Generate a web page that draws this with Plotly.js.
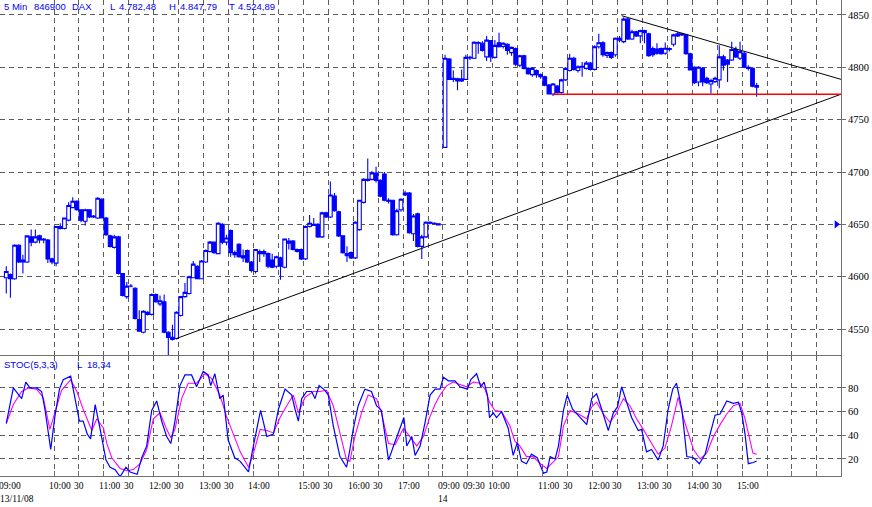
<!DOCTYPE html>
<html><head><meta charset="utf-8">
<script src="https://cdn.plot.ly/plotly-3.0.1.min.js"></script>
<style>html,body{margin:0;padding:0;background:#fff;}#chart{width:872px;height:507px;}</style>
</head><body><div id="chart"></div>
<script>
// ---- Day 1 (13/11/08) 5-min candles from 09:00 ----
const day1Open  = [4599,4602,4598,4630,4616,4614,4638,4633,4639,4636,4635,4617,4613,4648,4646,4654,4666,4672,4664,4653,4664,4658,4656,4674,4656,4639,4628,4638,4603,4581,4591,4589,4559,4547,4566,4564,4583,4574,4576,4547,4540,4541,4563,4581,4584,4599,4610,4598,4614,4624,4633,4622,4650,4633,4644,4623,4631,4620,4625,4614,4605,4624,4622,4622,4616,4610,4618,4609,4634,4634,4624,4626,4617,4648,4650,4650,4638,4661,4657,4677,4662,4639,4622,4623,4618,4645,4671,4692,4693,4699,4692,4698,4673,4673,4640,4664,4678,4680,4641,4660,4629,4638,4652,4651,4650.5];
const day1High  = [4610,4603,4631,4631,4621,4639,4645,4645,4640,4637,4636,4618,4648,4651,4656,4671,4676,4673,4664,4665,4664,4659,4676,4675,4657,4640,4640,4639,4603,4595,4593,4590,4568,4568,4567,4584,4584,4582,4583,4548,4554,4567,4581,4594,4601,4615,4611,4616,4626,4634,4633,4652,4651,4640,4645,4625,4632,4626,4626,4615,4626,4626,4626,4623,4622,4620,4619,4636,4637,4635,4627,4627,4649,4659,4656,4651,4662,4662,4691,4680,4663,4639,4629,4624,4653,4673,4694,4713,4701,4705,4693,4700,4675,4673,4665,4675,4682,4681,4660,4661,4640,4653,4653,4652,4651];
const day1Low   = [4584,4580,4597,4613,4603,4613,4629,4632,4632,4632,4613,4612,4610,4645,4645,4653,4666,4663,4652,4649,4656,4656,4655,4656,4639,4628,4627,4602,4581,4579,4590,4559,4548,4546,4563,4563,4575,4572,4546,4525,4539,4540,4562,4580,4583,4599,4598,4598,4613,4623,4622,4622,4631,4630,4619,4618,4618,4614,4613,4604,4603,4614,4619,4608,4608,4608,4597,4608,4626,4625,4623,4616,4616,4647,4649,4637,4637,4656,4656,4662,4638,4622,4614,4617,4617,4644,4670,4691,4692,4690,4676,4672,4670,4639,4639,4662,4677,4641,4634,4628,4617,4637,4650,4650,4649];
const day1Close = [4605,4598,4630,4614,4614,4639,4633,4638,4635,4635,4617,4614,4648,4646,4656,4668,4672,4664,4654,4664,4657,4657,4675,4656,4640,4629,4638,4603,4582,4591,4591,4560,4548,4567,4564,4583,4576,4577,4547,4542,4542,4566,4581,4585,4600,4612,4598,4615,4625,4633,4623,4651,4633,4637,4623,4621,4619,4618,4614,4606,4626,4622,4624,4610,4609,4619,4610,4636,4632,4626,4626,4617,4648,4651,4649,4638,4661,4657,4678,4663,4639,4623,4620,4618,4652,4673,4693,4693,4699,4692,4677,4673,4672,4640,4663,4674,4680,4642,4658,4629,4638,4652,4651,4650.5,4649.5];

// ---- Day 2 (14) 5-min candles from 09:00 ----
const day2Open  = [4723.5,4808,4788.5,4789,4787,4788.5,4809.5,4808.6,4823.6,4823,4810,4825.5,4809.5,4823.5,4820,4822,4814,4818,4802,4811,4799,4793,4797,4793,4791,4783,4774.5,4782,4776,4788,4797,4808.6,4797,4800,4799,4804,4798,4819.7,4823.5,4811.4,4814,4812,4827.7,4824.5,4846,4827,4834,4830,4835,4832,4818,4817.5,4818,4813.4,4818,4822,4830,4832,4831,4813,4800,4786,4799,4789.5,4784,4786.3,4788,4810,4807,4807,4817,4808.6,4813.4,4800,4799,4781];
const day2High  = [4812,4809,4797,4790,4798,4812,4811,4825,4825,4825,4830,4826,4826,4833,4824,4823,4820,4819,4812,4812,4800,4800,4798,4794,4792,4784,4785,4783,4789,4800,4813,4810,4802,4805,4806,4805,4821,4832,4825,4815,4815,4828.5,4830,4847.79,4847,4836,4835,4836,4836,4833,4820,4823,4819,4823.6,4819,4832,4834,4833,4832,4814,4801,4801,4800,4791,4789,4791,4821,4812,4808,4824.5,4820,4824.5,4815,4802,4800,4785];
const day2Low   = [4723,4788,4786,4778,4786,4788,4807,4808,4813,4815,4806,4805,4808.5,4819,4818,4812,4811,4801,4800,4798,4793,4791,4790,4789,4782,4774,4772.6,4775,4775,4787,4796,4797,4795,4791,4798,4797,4797,4818,4810,4809,4808,4810,4824,4823,4826,4826,4829,4823,4823,4810,4810,4812,4812,4812,4815,4820,4829,4830,4812,4797,4784,4782,4782,4784,4775,4785,4780,4797,4786,4806,4809,4807,4799,4797,4781,4772];
const day2Close = [4808.6,4788.5,4789.5,4787,4789,4809.5,4809,4824,4823,4816,4826,4810,4821,4819.7,4823,4816,4819,4803,4811,4799,4794,4799,4793,4791,4783,4774.5,4784,4776,4788,4799,4808.6,4798,4800.6,4801,4804,4798,4819.7,4823.5,4812,4814,4809.5,4827.7,4826,4846,4827,4834,4830,4835,4833,4811,4812,4813.4,4813,4818.2,4817,4831,4832,4831,4813,4797.5,4785.4,4800,4786,4785.4,4787.3,4789.5,4810,4802,4803,4817,4810,4815,4800,4799,4782,4782.48];

// ---- STOC(5,3,3): %K (blue) and %D (magenta); bar = 5-min bar index within the day ----
const stochK1Bar = [0,1.7,3.7,4.7,5.7,7.3,8.5,9.3,10.7,11.7,12.8,13.7,15.5,16.5,17.6,18.5,19.5,20.3,21.4,22.6,24,25,26.2,27.4,28.8,29.8,30.6,31.5,32.6,33.8,35,36.2,37.4,38.6,39.6,40.6,41.8,43,44.6,45.8,47.4,48.6,49.2,50.2,51.4,52.2,53.4,55,56.3,57.5,58.3,59.3,60.1,61.2,61.9,62.7,64.3,65.5,67.1,68.7,69.5,70.3,71.1,72.3,73.5,74.3,75.3,76.7,77.5,78.7,80.3,81.9,82.7,83.5,84.7,86.3,87.9,89.1,90.3,92,93.2,94.8,95.7,96.4,97.6,98.4,99.6,100.8,102,103.2,104.4];
const stochK1 = [50,80,71,85,80,80,77,62,28,56,79,87,90,71,52,52,41,37,66,45,19,13,11,5,13,9,8,7,21,31,61,69,52,39,33,52,82,91,91,81,94,91,82,92,71,74,36,21,18,12,9,28,42,61,51,39,41,62,79,74,62,52,71,77,77,71,82,78,74,48,22,13,28,45,65,79,77,65,61,19,31,46,55,31,39,23,31,51,74,79,79];
const stochK2Bar = [-0.4,0.8,2.4,3.6,5.4,6.2,7.6,8.6,9.4,10.2,10.7,11.6,12.4,13.6,15.2,16.4,17.4,18.4,19.6,20.8,22.2,23.7,24.5,25.3,26.5,27.3,28.5,29.4,30.7,32.5,34.1,35.3,36.5,37.7,39.3,40.5,41.5,42.5,43.7,44.9,46.5,47.3,48.5,49.7,51.3,52.5,53.7,54.8,55.7,57,58.2,59.8,61.2,62.6,63.8,65,66.2,67.8,69.4,70.6,71.4,72.2,73,74.2,75];
const stochK2 = [89,86,86,81,79,87,92,81,85,74,55,59,55,60,46,23,34,18,16,24,21,8,9,22,20,31,61,74,62,55,49,71,75,62,44,59,64,81,68,55,44,45,26,28,19,31,62,79,84,62,22,21,16,24,41,57,58,69,67,68,59,41,16,17,18.34];
const stochD1Bar = [0,1.7,3.7,5.3,7.3,8.9,10.5,11.7,13.3,15.5,17,18.5,20.6,21.8,23.4,24.2,25.4,27.4,29,30.6,32.2,33.8,35.4,37,38.6,39.6,40.6,42.2,43.8,45.8,47.8,49.4,51.4,53,54.6,56.3,58.3,59.5,61.1,62.7,64.3,65.9,67.5,69.1,70.3,71.9,73.9,75.5,77.1,78.7,80.3,81.9,82.7,83.9,85.5,87.1,89.1,90.3,92,93.6,95.6,97.2,98.8,100.4,102,103.2,104.4];
const stochD1 = [50,66,77,80,79,72,45,59,78,87,77,62,44,54,46,33,21,12,10,11,16,28,54,59,45,38,45,71,84,84,92,88,74,56,41,26,13,25,45,44,42,55,65,74,59,72,77,77,78,65,42,19,18,39,59,74,71,59,33,32,46,39,31,39,56,66,74];
const stochD2Bar = [0.4,2,3.6,5.2,6.8,8.4,9.6,10.7,12,13.6,15.6,16.8,18,19.6,21.2,22.9,24.5,26.1,27.3,28.5,30.1,32.1,34.1,35.3,36.5,38.1,39.7,41.3,42.9,44.5,46.1,47.7,49.3,51.3,52.9,54.5,56.1,57.7,59.8,61.4,63,64.6,66.2,67.8,69.4,71,72.2,73,74.1,75];
const stochD2 = [82,85,83,81,85,84,79,68,61,60,48,35,31,22,22,16,12,18,22,48,61,58,54,64,68,58,51,59,71,65,54,45,36,24,29,48,72,51,28,20,25,39,49,58,65,67,54,42,25,24];

// ---- Tick / label text ----
const yMainTicks = [4550,4600,4650,4700,4750,4800,4850];
const yStochTicks = [20,40,60,80];
const day1GridTimes = ["10:00","10:30","11:00","11:30","12:00","12:30","13:00","13:30","14:00","14:30","15:00","15:30","16:00","16:30","17:00","17:30"];
const day2GridTimes = ["09:00","09:30","10:00","10:30","11:00","11:30","12:00","12:30","13:00","13:30","14:00","14:30","15:00","15:30","16:00","16:30"];
const day1LabelTimes = ["09:00","10:00","10:30","11:00","11:30","12:00","12:30","13:00","13:30","14:00","15:00","15:30","16:00","16:30","17:00"];
const day1LabelTexts = ["09:00","10:00","30","11:00","30","12:00","30","13:00","30","14:00","15:00","30","16:00","30","17:00"];
const day2LabelTimes = ["09:00","09:30","10:00","11:00","11:30","12:00","12:30","13:00","13:30","14:00","14:30","15:00"];
const day2LabelTexts = ["09:00","09:30","10:00","11:00","30","12:00","30","13:00","30","14:00","30","15:00"];
const dateLabels = ["13/11/08","14"];
const headerTexts = ["5 Min","846900","DAX","L","4.782,48","H","4.847,79","T","4.524,89"];
const stochHeader = ["STOC(5,3,3)","L","18,34"];

// ---- Drawn lines (anchor values) ----
const supportBar = [41.5, 201.4], supportVal = [4541, 4774.3];
const resistBar  = [148.6, 201.4], resistVal = [4849.3, 4788.5];
const redLineBar = [132.1, 201.4], redLineVal = [4774.2, 4774.2];
const markerVal = 4650;

// ---- layout helpers ----
const DAY2_START = 105.6;         // slot position of day-2 09:00 on the bar axis
const X_RANGE = [-1.01, 201.4];
function slot(t){const p=t.split(':').map(Number);return (p[0]*60+p[1]-540)/5;}
const x1 = day1Open.map((_,i)=>i+0.5);
const x2 = day2Open.map((_,j)=>DAY2_START+j+0.5);
const gridVals = day1GridTimes.map(slot).concat(day2GridTimes.map(t=>DAY2_START+slot(t)));

const BLUE='#0000ff';
const traces = [
  {type:'candlestick', x:x1.concat(x2),
   open:day1Open.concat(day2Open), high:day1High.concat(day2High),
   low:day1Low.concat(day2Low), close:day1Close.concat(day2Close),
   increasing:{line:{color:BLUE,width:1.1}, fillcolor:'#ffffff'},
   decreasing:{line:{color:BLUE,width:1.1}, fillcolor:BLUE},
   whiskerwidth:0, xaxis:'x', yaxis:'y', showlegend:false, hoverinfo:'skip'},
  {type:'scatter', mode:'lines', x:supportBar, y:supportVal, line:{color:'#000',width:1}, xaxis:'x', yaxis:'y', showlegend:false},
  {type:'scatter', mode:'lines', x:resistBar, y:resistVal, line:{color:'#000',width:1}, xaxis:'x', yaxis:'y', showlegend:false},
  {type:'scatter', mode:'lines', x:redLineBar, y:redLineVal, line:{color:'#ff0000',width:1.6}, xaxis:'x', yaxis:'y', showlegend:false},
  {type:'scatter', mode:'markers', x:[200.3], y:[markerVal], marker:{symbol:'triangle-right',size:7,color:BLUE}, xaxis:'x', yaxis:'y', showlegend:false},
  {type:'scatter', mode:'lines', x:stochD1Bar.map(b=>b+0.5).concat(stochD2Bar.map(b=>DAY2_START+b+0.5)), y:stochD1.concat(stochD2),
   line:{color:'#ff00ff',width:1.1}, xaxis:'x2', yaxis:'y2', showlegend:false},
  {type:'scatter', mode:'lines', x:stochK1Bar.map(b=>b+0.5).concat(stochK2Bar.map(b=>DAY2_START+b+0.5)), y:stochK1.concat(stochK2),
   line:{color:BLUE,width:1.2}, xaxis:'x2', yaxis:'y2', showlegend:false}
];

const W=872,H=507,PW=841,PH=476;
const gridStyle = {showgrid:true, gridcolor:'#5c5c5c', gridwidth:1, griddash:'5px,4px'};
const tickFont = {family:'"Liberation Sans Narrow","Arial Narrow","Liberation Serif",serif', size:10.5, color:'#000'};
const labFont = {family:'"Liberation Serif",serif', size:9.5, color:'#000'};
const hdrFont = {family:'"Liberation Sans",Arial,sans-serif', size:9.5, color:BLUE};

const annotations = [];
day1LabelTimes.forEach((t,k)=>annotations.push({xref:'x2',yref:'paper',x:slot(t),y:-10/PH,text:day1LabelTexts[k],showarrow:false,xanchor:'left',yanchor:'middle',xshift:-6,font:labFont,borderpad:0}));
day2LabelTimes.forEach((t,k)=>annotations.push({xref:'x2',yref:'paper',x:DAY2_START+slot(t),y:-10/PH,text:day2LabelTexts[k],showarrow:false,xanchor:'left',yanchor:'middle',xshift:-6,font:labFont,borderpad:0}));
annotations.push({xref:'x2',yref:'paper',x:0,y:-23/PH,text:dateLabels[0],showarrow:false,xanchor:'left',yanchor:'middle',xshift:-5,font:labFont,borderpad:0});
annotations.push({xref:'x2',yref:'paper',x:DAY2_START,y:-23/PH,text:dateLabels[1],showarrow:false,xanchor:'left',yanchor:'middle',xshift:-6,font:labFont,borderpad:0});
const hdrX=[3,33,71,109,118,168,179,228,237];
headerTexts.forEach((t,k)=>annotations.push({xref:'paper',yref:'paper',x:hdrX[k]/PW,y:1-7/PH,text:t,showarrow:false,xanchor:'left',yanchor:'middle',font:hdrFont,borderpad:0}));
const stX=[3,76,86];
stochHeader.forEach((t,k)=>annotations.push({xref:'paper',yref:'paper',x:stX[k]/PW,y:(PH-364)/PH,text:t,showarrow:false,xanchor:'left',yanchor:'middle',font:hdrFont,borderpad:0}));

const layout = {
  width:W, height:H, margin:{l:0,r:W-PW,t:0,b:H-PH}, paper_bgcolor:'#fff', plot_bgcolor:'#fff',
  showlegend:false, dragmode:false, boxgap:0.12, boxgroupgap:0,
  xaxis:Object.assign({domain:[0,1], anchor:'y', range:X_RANGE, tickvals:gridVals, showticklabels:false, ticks:'',
    showline:true, linecolor:'#707070', linewidth:1, zeroline:false, rangeslider:{visible:false}, fixedrange:true}, gridStyle),
  yaxis:Object.assign({domain:[(PH-355)/PH,1], anchor:'x', side:'right', range:[4525.2,4864.3], tickvals:yMainTicks,
    ticks:'outside', ticklen:4, tickcolor:'#707070', showline:true, linecolor:'#707070', linewidth:1, zeroline:false,
    tickfont:tickFont, fixedrange:true}, gridStyle),
  xaxis2:Object.assign({domain:[0,1], anchor:'y2', matches:'x', range:X_RANGE, tickvals:gridVals, showticklabels:false,
    ticks:'inside', ticklen:5, tickcolor:'#707070', showline:true, linecolor:'#707070', linewidth:1, zeroline:false, fixedrange:true}, gridStyle),
  yaxis2:Object.assign({domain:[0,(PH-356)/PH], anchor:'x2', side:'right', range:[5.6,107], tickvals:yStochTicks,
    ticks:'outside', ticklen:4, tickcolor:'#707070', showline:true, linecolor:'#707070', linewidth:1, zeroline:false,
    tickfont:tickFont, fixedrange:true}, gridStyle),
  annotations:annotations
};
Plotly.newPlot('chart', traces, layout, {staticPlot:true, displayModeBar:false});
</script></body></html>
